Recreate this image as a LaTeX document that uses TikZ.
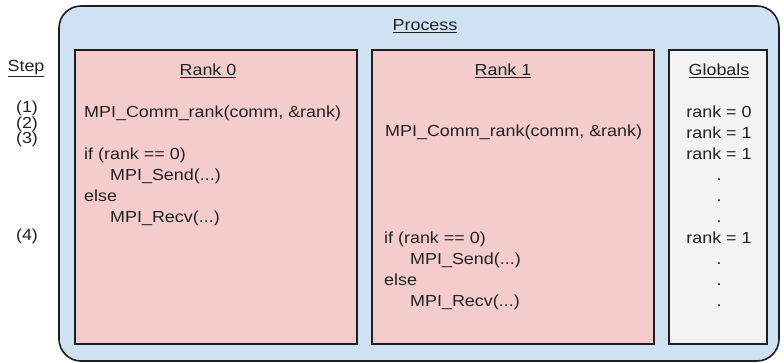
\documentclass[tikz,border=0pt]{standalone}
\usepackage{fontspec}
\setmainfont{Liberation Sans}[FakeStretch=1.12]
\usetikzlibrary{positioning}
\definecolor{ProcBlue}{RGB}{207, 226, 243}
\definecolor{RankPink}{RGB}{244, 204, 204}
\definecolor{GlobGrey}{RGB}{243, 243, 243}
\definecolor{EdgeDark}{RGB}{30, 30, 30}
\definecolor{TextDark}{RGB}{34, 34, 34}

\begin{document}
\begin{tikzpicture}[x=1pt, y=-1pt, inner sep=0pt,
        every node/.style={font=\fontsize{16}{21}\selectfont, text=TextDark},
        panel/.style={draw=EdgeDark, line width=1.6pt, minimum height=294pt},
        title/.style={anchor=base},
        code/.style={anchor=base west, align=left}]
        \useasboundingbox (0,0) rectangle (784,363);
        \node[draw=EdgeDark, line width=1.6pt, fill=ProcBlue, rounded corners=22pt, minimum width=720pt, minimum height=355pt] (process) at (419,183.5) {};
        \node[panel, fill=RankPink, minimum width=282pt] (rank0) at (216,197) {};
        \node[panel, fill=RankPink, minimum width=282pt] (rank1) at (513,197) {};
        \node[panel, fill=GlobGrey, minimum width=98pt] (globals) at (718,197) {};
        % titles
        \node[title] (proctitle) at (425,30.7) {\underline{Process}};
        \node[title] (steptitle) at (26,71.7) {\underline{Step}};
        \node[title] (rank0title) at (208,75.7) {\underline{Rank 0}};
        \node[title] (rank1title) at (503,75.7) {\underline{Rank 1}};
        \node[title] (globtitle) at (719,75.7) {\underline{Globals}};
        % steps
        \node[title] (step1) at (27,113) {(1)};
        \node[title] (step2) at (27,128.5) {(2)};
        \node[title] (step3) at (27,144) {(3)};
        \node[title] (step4) at (27,241) {(4)};
        % code (multi-line nodes sit on their last baseline)
        \node[code] (code0) at (84,222.5) {MPI\_Comm\_rank(comm, \&rank)\\[21pt]if (rank == 0)\\\hspace*{26pt}MPI\_Send(...)\\else\\\hspace*{26pt}MPI\_Recv(...)};
        \node[code] (code1a) at (385,136.5) {MPI\_Comm\_rank(comm, \&rank)};
        \node[code] (code1b) at (384,306.5) {if (rank == 0)\\\hspace*{26pt}MPI\_Send(...)\\else\\\hspace*{26pt}MPI\_Recv(...)};
        \node[title, align=center] (globvals) at (719,306.5) {rank = 0\\rank = 1\\rank = 1\\.\\.\\.\\rank = 1\\.\\.\\.};
    \end{tikzpicture}
\end{document}
